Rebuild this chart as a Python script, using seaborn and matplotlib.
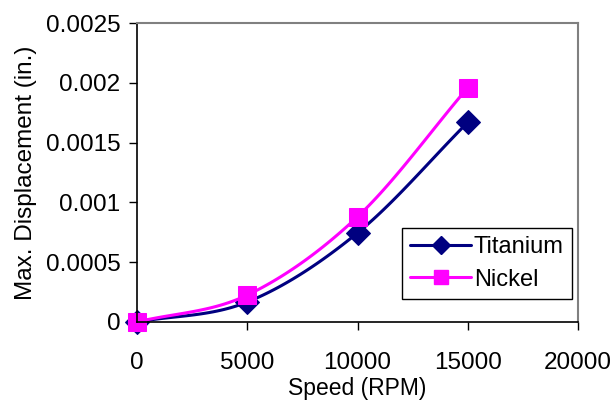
import numpy as np
import pandas as pd
import matplotlib
matplotlib.use("Agg")
import matplotlib.pyplot as plt
import seaborn as sns

speed = [0, 5000, 10000, 15000]
titanium = [0.0, 0.000167, 0.000745, 0.00167]
nickel = [0.0, 0.000225, 0.00088, 0.00196]
xticks = [0, 5000, 10000, 15000, 20000]
yticks = [0, 0.0005, 0.001, 0.0015, 0.002, 0.0025]
ytick_labels = ["0", "0.0005", "0.001", "0.0015", "0.002", "0.0025"]

sns.set_theme(style="white")
plt.rcParams['font.family'] = ['Liberation Sans', 'DejaVu Sans']
plt.rcParams['text.color'] = 'black'
plt.rcParams['axes.labelcolor'] = 'black'
plt.rcParams['xtick.color'] = 'black'
plt.rcParams['ytick.color'] = 'black'

fig = plt.figure(figsize=(6.13, 4.04), dpi=100)
ax = fig.add_axes([0.2235, 0.203, 0.7195, 0.740])


def smooth(x, y, n=30):
    # Catmull-Rom style smoothing (like Excel smoothed lines) for display
    x = np.asarray(x, float); y = np.asarray(y, float)
    px = np.concatenate([[2 * x[0] - x[1]], x, [2 * x[-1] - x[-2]]])
    py = np.concatenate([[2 * y[0] - y[1]], y, [2 * y[-1] - y[-2]]])
    xs, ys = [], []
    for i in range(1, len(px) - 2):
        t = np.linspace(0, 1, n)
        for arr, out in ((px, xs), (py, ys)):
            p0, p1, p2, p3 = arr[i - 1], arr[i], arr[i + 1], arr[i + 2]
            out.extend(0.5 * ((2 * p1) + (-p0 + p2) * t + (2 * p0 - 5 * p1 + 4 * p2 - p3) * t ** 2
                              + (-p0 + 3 * p1 - 3 * p2 + p3) * t ** 3))
    return np.array(xs), np.array(ys)


series = [("Titanium", titanium, "#000080", "D", 12, 9),
          ("Nickel", nickel, "#FF00FF", "s", 12.5, 10)]
handles = []
for name, vals, col, mk, ms, lms in series:
    sx, sy = smooth(speed, vals)
    sns.lineplot(x=sx, y=sy, ax=ax, color=col, lw=2.2, sort=False, estimator=None)
    df = pd.DataFrame({"x": speed, "y": vals})
    sns.lineplot(data=df, x="x", y="y", ax=ax, color=col, lw=0, marker=mk,
                 markersize=ms, markeredgecolor=col, clip_on=False)
    h, = ax.plot([], [], color=col, lw=2.2, marker=mk, markersize=lms, markeredgecolor=col)
    handles.append((h, name))

ax.set_xlim(0, 20000)
ax.set_ylim(0, 0.0025)
ax.set_xticks(xticks)
ax.set_xticklabels([str(v) for v in xticks])
ax.set_yticks(yticks)
ax.set_yticklabels(ytick_labels)
ax.tick_params(axis="both", which="major", labelsize=17.5, direction="out",
               length=6, width=1, color="black", bottom=True, left=True)
ax.tick_params(axis="x", pad=15.5)
ax.tick_params(axis="y", pad=6)
ax.set_xlabel("Speed (RPM)", fontsize=16.5, labelpad=2.5)
ax.set_ylabel("Max. Displacement (in.)", fontsize=17.5, labelpad=6)

for side in ["left", "bottom"]:
    ax.spines[side].set_color("black")
    ax.spines[side].set_linewidth(1.2)
for side in ["top", "right"]:
    ax.spines[side].set_color("#808080")
    ax.spines[side].set_linewidth(1.5)

leg = ax.legend([h for h, _ in handles], [n for _, n in handles],
                loc="lower right", bbox_to_anchor=(0.986, 0.077), borderaxespad=0,
                fontsize=17, frameon=True, fancybox=False, framealpha=1,
                edgecolor="black", handlelength=2.6, borderpad=0.35,
                labelspacing=0.45, handletextpad=0.1)
leg.get_frame().set_linewidth(1.0)

fig.savefig("out.png", dpi=100)
